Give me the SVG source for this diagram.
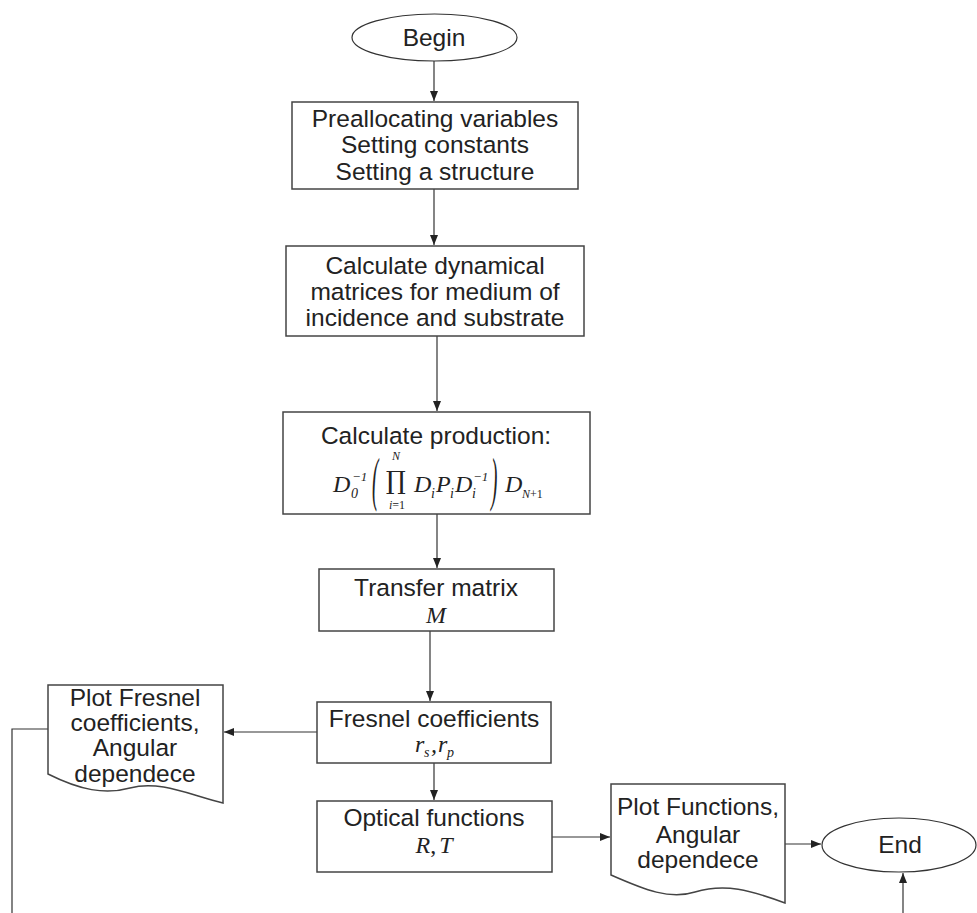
<svg xmlns="http://www.w3.org/2000/svg" width="977" height="913" viewBox="0 0 977 913">
<defs>
<marker id="ah" markerUnits="userSpaceOnUse" markerWidth="11" markerHeight="8" refX="10" refY="4" orient="auto">
<path d="M0,0 L10,4 L0,8 z" fill="#222"/>
</marker>
<style>
.box{fill:#fff;stroke:#444;stroke-width:1.5}
.t{font-family:"Liberation Sans",Arial,sans-serif;font-size:24.5px;fill:#222;text-anchor:middle}
.m{font-family:"Liberation Serif","Times New Roman",serif;font-style:italic;fill:#222}
.c{fill:none;stroke:#333;stroke-width:1.2}
</style>
</defs>
<rect width="977" height="913" fill="#fff"/>
<g id="connectors">
<line class="c" x1="434" y1="61" x2="434" y2="101" marker-end="url(#ah)"/>
<line class="c" x1="434" y1="189" x2="434" y2="245" marker-end="url(#ah)"/>
<line class="c" x1="437" y1="336" x2="437" y2="411" marker-end="url(#ah)"/>
<line class="c" x1="437" y1="514" x2="437" y2="568" marker-end="url(#ah)"/>
<line class="c" x1="430" y1="631" x2="430" y2="701" marker-end="url(#ah)"/>
<line class="c" x1="317" y1="732" x2="224" y2="732" marker-end="url(#ah)"/>
<line class="c" x1="434" y1="763" x2="434" y2="800" marker-end="url(#ah)"/>
<line class="c" x1="552" y1="837" x2="610" y2="837" marker-end="url(#ah)"/>
<line class="c" x1="785" y1="844" x2="821" y2="844" marker-end="url(#ah)"/>
<line class="c" x1="903" y1="913" x2="903" y2="873" marker-end="url(#ah)"/>
<polyline class="c" points="48,729 12,729 12,913"/>
</g>
<g id="begin">
<ellipse cx="434.5" cy="37.5" rx="82.5" ry="23.5" fill="#fff" stroke="#333" stroke-width="1.2"/>
<text class="t" x="434" y="46">Begin</text>
</g>
<g id="preallocate">
<rect class="box" x="292" y="102" width="286" height="87"/>
<text class="t" x="435" y="127">Preallocating variables</text>
<text class="t" x="435" y="153">Setting constants</text>
<text class="t" x="435" y="180">Setting a structure</text>
</g>
<g id="dynamical">
<rect class="box" x="286" y="246" width="298" height="90"/>
<text class="t" x="435" y="274">Calculate dynamical</text>
<text class="t" x="435" y="300">matrices for medium of</text>
<text class="t" x="435" y="326">incidence and substrate</text>
</g>
<g id="production">
<rect class="box" x="283" y="412" width="307" height="102"/>
<text class="t" x="436" y="444">Calculate production:</text>
<text class="m" x="333" y="492" font-size="24">D</text>
<text class="m" x="351" y="498" font-size="14" font-style="normal">0</text>
<text class="m" x="352" y="481" font-size="13" font-style="normal">−1</text>
<text class="m" font-style="normal" font-size="24" transform="translate(372,499) scale(0.8,2.5)" x="0" y="0">(</text>
<text class="m" x="396" y="460" font-size="12" text-anchor="middle">N</text>
<text font-family="'DejaVu Serif',serif" font-size="25" fill="#222" x="396" y="489" text-anchor="middle">∏</text>
<text class="m" x="397" y="509" font-size="12" text-anchor="middle">i<tspan font-style="normal">=1</tspan></text>
<text class="m" x="414" y="492" font-size="24">D</text>
<text class="m" x="431" y="498" font-size="14">i</text>
<text class="m" x="436" y="492" font-size="24">P</text>
<text class="m" x="450" y="498" font-size="14">i</text>
<text class="m" x="455" y="492" font-size="24">D</text>
<text class="m" x="472" y="498" font-size="14">i</text>
<text class="m" x="473" y="481" font-size="13" font-style="normal">−1</text>
<text class="m" font-style="normal" font-size="24" transform="translate(491,499) scale(0.8,2.5)" x="0" y="0">)</text>
<text class="m" x="505" y="492" font-size="24">D</text>
<text class="m" x="522" y="498" font-size="12">N<tspan font-style="normal">+1</tspan></text>
</g>
<g id="transfer">
<rect class="box" x="319" y="569" width="235" height="62"/>
<text class="t" x="436" y="596">Transfer matrix</text>
<text class="m" x="436" y="623" font-size="24" text-anchor="middle">M</text>
</g>
<g id="fresnel">
<rect class="box" x="317" y="702" width="234" height="61"/>
<text class="t" x="434" y="727">Fresnel coefficients</text>
<text class="m" x="415" y="752" font-size="24">r</text>
<text class="m" x="424" y="757" font-size="14">s</text>
<text class="m" x="431" y="752" font-size="24" font-style="normal">,</text>
<text class="m" x="438" y="752" font-size="24">r</text>
<text class="m" x="447" y="757" font-size="14">p</text>
</g>
<g id="optical">
<rect class="box" x="317" y="801" width="235" height="71"/>
<text class="t" x="434" y="826">Optical functions</text>
<text class="m" x="434" y="853" font-size="24" text-anchor="middle">R<tspan font-style="normal">,</tspan><tspan dx="3">T</tspan></text>
</g>
<g id="plot-fresnel">
<path class="box" d="M48,685 H223 V803 C190,795 160,780 130,788 C105,795 80,790 48,774 Z"/>
<text class="t" x="135" y="706">Plot Fresnel</text>
<text class="t" x="135" y="731">coefficients,</text>
<text class="t" x="135" y="756">Angular</text>
<text class="t" x="135" y="782">dependece</text>
</g>
<g id="plot-functions">
<path class="box" d="M611,784 H785 V903 C750,890 725,883 695,892 C670,900 645,890 611,875 Z"/>
<text class="t" x="698" y="815">Plot Functions,</text>
<text class="t" x="698" y="843">Angular</text>
<text class="t" x="698" y="868">dependece</text>
</g>
<g id="end">
<ellipse cx="899" cy="845" rx="77" ry="27" fill="#fff" stroke="#333" stroke-width="1.2"/>
<text class="t" x="900" y="853">End</text>
</g>
</svg>
